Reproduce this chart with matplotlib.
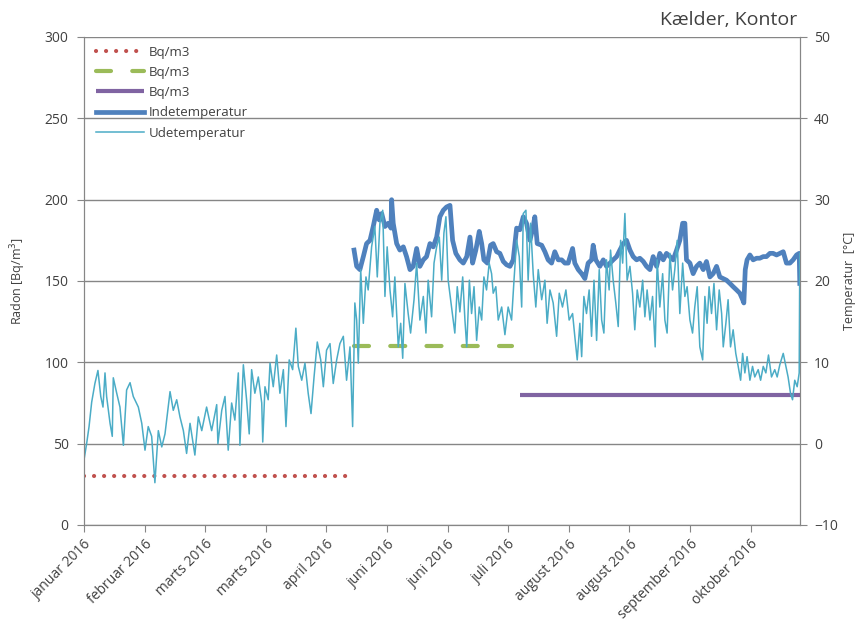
import matplotlib
matplotlib.use("Agg")
import matplotlib.pyplot as plt

plt.rcParams['font.family'] = ['Open Sans', 'DejaVu Sans']

# x axis is a running index (about 30 per tick label)
tick_pos = [0, 30, 60, 90, 120, 150, 180, 210, 240, 270, 300, 330]
tick_labels = ['januar 2016', 'februar 2016', 'marts 2016', 'marts 2016', 'april 2016',
               'juni 2016', 'juni 2016', 'juli 2016', 'august 2016', 'august 2016',
               'september 2016', 'oktober 2016']
x_end = 354.5

# radon, three measuring periods (Bq/m3)
radon1_x = [0, 132.7]
radon1 = [30, 30]
radon2_x = [133.7, 211.9]
radon2 = [110, 110]
radon3_x = [215.8, 354.4]
radon3 = [80, 80]

# outdoor temperature (degC)
ude_x = [0, 1.3, 2.5, 3.8, 5.4, 6.9, 8.3, 9.4, 10.4, 11.2, 12.9, 14.0, 14.5, 16.2, 17.8,
         19.5, 21.1, 22.8, 24.4, 26.9, 28.6, 30.2, 31.8, 33.5, 35.1, 36.8, 38.5, 40.1, 42.6,
         44.2, 45.9, 47.5, 49.2, 50.8, 52.5, 54.9, 56.6, 58.3, 60.7, 63.2, 65.7, 66.3, 68.2,
         69.8, 71.4, 73.1, 74.7, 76.4, 77.2, 78.9, 80.5, 81.8, 83.0, 84.6, 86.3, 88.0, 88.5,
         89.6, 91.2, 92.1, 93.7, 95.4, 97.0, 98.7, 100.0, 101.6, 103.3, 104.9, 106.1, 107.8,
         109.4, 111.0, 112.4, 113.9, 115.5, 117.2, 118.5, 120.1, 121.8, 123.4, 125.1, 126.7,
         128.4, 130.0, 131.7, 133.0, 134.1, 135.0, 135.8, 137.0, 138.3, 139.6, 140.7, 142.4,
         144.0, 145.2, 146.5, 147.9, 149.0, 150.1, 151.5, 152.8, 153.9, 155.6, 156.8, 157.8,
         158.9, 160.5, 161.7, 163.4, 164.7, 166.3, 168.0, 169.3, 170.4, 172.1, 173.3, 174.6,
         175.9, 177.1, 178.2, 179.2, 180.3, 182.0, 183.6, 184.8, 186.1, 187.5, 188.6, 189.5,
         190.8, 191.9, 193.1, 194.4, 195.7, 196.9, 198.0, 199.3, 200.6, 201.8, 202.6, 203.9,
         205.1, 206.8, 208.4, 210.0, 211.7, 212.9, 214.2, 215.5, 216.7, 217.5, 218.8, 219.9,
         221.1, 222.4, 223.7, 224.9, 226.6, 228.2, 229.3, 230.7, 232.3, 234.0, 235.3, 236.9,
         238.6, 240.2, 241.9, 243.0, 244.2, 245.5, 246.4, 247.5, 248.8, 250.1, 251.3, 252.5,
         253.8, 255.1, 256.3, 257.4, 258.7, 260.0, 260.7, 262.0, 263.3, 264.5, 265.7, 266.7,
         267.8, 268.9, 270.3, 271.6, 272.7, 273.9, 275.2, 276.6, 277.7, 278.8, 280.2, 281.5,
         282.8, 283.8, 285.1, 286.5, 287.6, 288.7, 290.1, 291.4, 292.5, 293.7, 295.0, 296.4,
         297.5, 298.6, 300.0, 301.3, 302.4, 303.6, 304.9, 306.3, 307.4, 308.5, 309.5, 310.7,
         311.9, 313.2, 314.5, 315.7, 316.5, 317.8, 318.9, 320.1, 321.4, 322.7, 323.9, 325.1,
         326.1, 327.2, 328.3, 329.7, 331.0, 332.1, 333.8, 335.0, 336.3, 337.6, 338.9, 340.4,
         342.0, 343.2, 344.5, 346.2, 347.5, 348.6, 349.8, 350.8, 351.9, 353.1, 354.1, 354.4]
ude = [-2.0, 0.0, 2.1, 5.1, 7.4, 9.0, 5.8, 4.5, 8.7, 5.8, 2.5, 0.9, 8.1, 6.2, 4.5,
       -0.2, 6.6, 7.5, 5.8, 4.5, 2.5, -0.8, 2.1, 0.9, -4.8, 1.6, -0.4, 1.2, 6.4,
       4.1, 5.4, 3.3, 1.6, -1.2, 2.5, -1.4, 3.3, 1.6, 4.5, 1.6, 4.8, 0.0, 4.1,
       5.8, -0.8, 5.0, 2.9, 8.7, -0.2, 9.7, 5.4, 1.2, 9.1, 6.2, 8.2, 5.0, 0.2,
       7.0, 5.4, 9.9, 7.0, 10.9, 6.2, 9.1, 2.1, 10.3, 9.1, 14.2, 9.5, 7.8,
       9.9, 6.2, 3.7, 8.2, 12.5, 10.3, 7.0, 11.5, 12.3, 7.4, 10.3, 12.3,
       13.2, 7.8, 11.9, 2.1, 17.3, 15.2, 9.9, 21.4, 14.8, 20.5, 18.9, 24.2,
       26.7, 20.5, 27.1, 28.7, 18.1, 24.2, 18.9, 15.6, 20.5, 11.9, 14.8, 10.5,
       19.7, 16.0, 13.6, 17.7, 22.2, 15.2, 18.1, 13.6, 20.1, 15.6, 22.2, 24.2,
       25.4, 20.1, 25.9, 27.9, 20.1, 16.8, 13.6, 19.3, 16.2, 20.5, 15.2, 11.9,
       20.1, 16.0, 19.3, 12.7, 16.8, 15.2, 20.5, 18.9, 22.2, 20.9, 18.5, 19.3,
       15.2, 16.8, 13.4, 16.8, 15.2, 20.1, 25.0, 23.0, 16.8, 28.3, 28.7, 20.1,
       27.1, 20.9, 16.8, 21.4, 17.7, 20.1, 14.8, 18.9, 17.3, 13.2, 18.5, 16.8,
       18.9, 15.2, 16.0, 13.2, 10.3, 14.8, 10.7, 18.1, 16.0, 18.9, 13.2, 20.1,
       12.7, 21.4, 15.2, 13.6, 22.6, 18.9, 23.8, 20.1, 17.3, 14.4, 25.0, 22.2,
       28.3, 20.1, 21.8, 18.5, 14.0, 18.9, 16.8, 20.1, 15.6, 18.9, 15.2, 18.1,
       11.9, 22.6, 16.8, 20.9, 15.2, 13.6, 23.4, 18.9, 21.4, 25.0, 16.0, 22.2,
       18.1, 19.3, 15.2, 13.6, 16.8, 19.3, 11.9, 10.3, 18.1, 14.8, 19.3, 16.0,
       19.7, 14.0, 18.9, 16.0, 11.9, 14.8, 17.7, 11.9, 14.0, 11.1, 9.5, 7.8,
       11.1, 8.7, 10.7, 7.8, 9.5, 8.2, 9.1, 7.8, 9.5, 8.7, 10.9, 8.2,
       9.1, 8.2, 9.7, 11.1, 9.5, 8.2, 6.2, 5.4, 7.8, 7.0, 8.7, 23.4]

# indoor temperature (degC)
inde_x = [133.7, 135.0, 136.6, 138.3, 139.9, 141.6, 143.2, 144.9, 146.2, 147.4, 149.0,
          150.6, 152.0, 152.3, 153.1, 154.8, 156.4, 158.1, 159.7, 161.4, 163.0, 164.7,
          166.3, 168.0, 169.6, 171.3, 172.9, 174.6, 176.2, 177.9, 179.5, 181.2, 182.5,
          184.1, 186.1, 187.8, 189.5, 191.1, 192.4, 194.0, 195.7, 196.9, 198.0, 199.7,
          201.3, 202.6, 204.3, 205.9, 207.6, 209.2, 210.9, 212.5, 214.2, 215.8, 217.5,
          219.1, 220.8, 222.4, 223.2, 224.4, 226.6, 228.2, 229.8, 231.5, 233.1, 234.8,
          236.5, 238.1, 239.7, 241.9, 243.0, 244.7, 246.4, 248.0, 249.6, 251.3, 252.1,
          253.4, 255.4, 257.1, 258.7, 260.4, 262.0, 263.7, 265.3, 267.0, 268.6, 270.3,
          271.9, 273.6, 275.2, 276.9, 278.5, 280.2, 281.8, 283.5, 285.1, 286.8, 288.4,
          290.1, 291.7, 293.4, 295.0, 296.4, 297.5, 298.3, 300.0, 301.6, 303.3, 304.9,
          306.6, 308.2, 309.9, 311.5, 313.2, 314.8, 316.5, 318.1, 319.8, 321.4, 323.1,
          324.7, 326.1, 326.7, 327.4, 328.3, 329.7, 331.3, 333.0, 334.6, 336.3, 337.9,
          339.6, 341.2, 342.9, 344.5, 346.2, 347.8, 349.5, 351.1, 352.8, 354.1, 354.4]
inde = [23.8, 21.8, 21.4, 23.0, 24.6, 25.0, 26.7, 28.7, 27.5, 28.3, 26.7,
        27.1, 26.5, 30.0, 27.1, 24.6, 23.8, 24.2, 23.0, 21.4, 21.8, 24.0,
        21.8, 22.6, 23.0, 24.6, 24.2, 25.4, 27.9, 28.7, 29.1, 29.3, 25.0,
        23.4, 22.6, 22.2, 23.0, 25.4, 22.2, 23.8, 26.1, 24.6, 22.6, 22.2,
        24.4, 24.6, 23.6, 23.4, 22.4, 22.0, 21.8, 22.6, 26.5, 26.3, 27.9,
        27.1, 25.0, 26.7, 27.9, 24.6, 24.4, 23.6, 22.6, 22.2, 23.6, 22.6,
        22.6, 22.2, 22.2, 24.0, 22.2, 21.4, 20.9, 20.3, 22.2, 22.6, 24.4,
        22.6, 21.8, 22.6, 21.8, 22.2, 22.6, 23.0, 23.8, 24.6, 25.0, 23.8,
        23.0, 22.6, 22.8, 22.4, 21.8, 21.4, 23.0, 21.8, 23.4, 22.6, 23.4,
        23.0, 22.6, 23.8, 25.0, 27.1, 27.1, 22.6, 22.2, 20.9, 21.8, 22.2,
        21.4, 22.4, 20.5, 20.9, 21.8, 20.5, 20.3, 20.1, 19.7, 19.3, 18.9,
        18.5, 17.7, 17.3, 21.4, 22.6, 23.2, 22.6, 22.8, 22.8, 23.0, 23.0,
        23.4, 23.4, 23.2, 23.4, 23.6, 22.2, 22.2, 22.6, 23.2, 23.4, 19.7]

grey = '#868686'
text_col = '#404040'

fig = plt.figure(figsize=(8.64, 6.3), dpi=100)
ax = fig.add_axes([84 / 864, 1 - 525 / 630, 716 / 864, 488 / 630])
ax2 = ax.twinx()

ax.plot(radon1_x, radon1, color='#C0504D', lw=3, linestyle=(0, (0.01, 2.4)),
        dash_capstyle='round', label='Bq/m3')
ax.plot(radon2_x, radon2, color='#9BBB59', lw=3, linestyle=(0, (3.6, 5.1)),
        dash_capstyle='round', label='Bq/m3')
ax.plot(radon3_x, radon3, color='#8064A2', lw=3, solid_capstyle='butt', label='Bq/m3')

ax2.plot(inde_x, inde, color='#4F81BD', lw=3.4, label='Indetemperatur')
ax2.plot(ude_x, ude, color='#4BACC6', lw=1.1, label='Udetemperatur')

ax.set_xlim(0, x_end)
ax.set_ylim(0, 300)
ax.set_yticks(range(0, 301, 50))
ax2.set_ylim(-10, 50)
ax2.set_yticks(range(-10, 51, 10))

ax.set_xticks(tick_pos)
ax.set_xticklabels(tick_labels, rotation=45, ha='right', rotation_mode='anchor')

ax.grid(axis='y', color=grey, lw=1)
ax.set_axisbelow(True)

for a in (ax, ax2):
    a.spines['top'].set_visible(False)
    for s in ('left', 'right', 'bottom'):
        a.spines[s].set_color(grey)
    a.tick_params(colors=grey, labelcolor=text_col, labelsize=10, length=5, direction='out')
ax.tick_params(axis='y', pad=6)
ax2.tick_params(axis='y', pad=5)

ax.set_ylabel('Radon [Bq/m$^3$]', color=text_col, fontsize=9, labelpad=12)
ax2.set_ylabel('Temperatur  [°C]', color=text_col, fontsize=9, labelpad=4)

fig.text(797 / 864, 1 - 20 / 630, 'Kælder, Kontor', ha='right', va='center',
         fontsize=14, color=text_col)

handles = ax.get_lines() + ax2.get_lines()
leg = ax2.legend(handles=handles, labels=[h.get_label() for h in handles],
                 loc='upper left', bbox_to_anchor=(0.005, 1.0), frameon=False,
                 fontsize=9.5, handlelength=3.6, handletextpad=0.4, labelspacing=0.55,
                 borderaxespad=0.25)
for t in leg.get_texts():
    t.set_color(text_col)

fig.savefig('out.png', dpi=100)
